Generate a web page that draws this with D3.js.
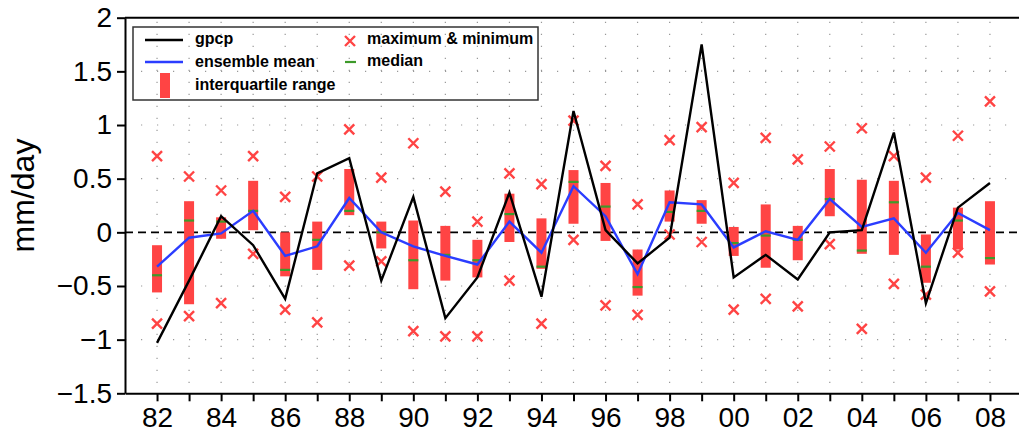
<!DOCTYPE html>
<html>
<head>
<meta charset="utf-8">
<script src="https://cdn.jsdelivr.net/npm/d3@7"></script>
<style>
  body { margin: 0; background: #fff; }
  svg { display: block; font-family: "Liberation Sans", Arial, sans-serif; }
  .axis text { font-size: 28px; fill: #000; }
  .axis path, .axis line { stroke: #000; stroke-width: 2; }
  .legend text { font-size: 16px; font-weight: bold; }
</style>
</head>
<body>
<div id="chart"></div>
<script>
// years shown on the x axis (labels are the last two digits)
var years = [1982, 1983, 1984, 1985, 1986, 1987, 1988, 1989, 1990, 1991, 1992, 1993, 1994, 1995,
    1996, 1997, 1998, 1999, 2000, 2001, 2002, 2003, 2004, 2005, 2006, 2007, 2008];

var gpcp = [-1.03, -0.45, 0.15, -0.12, -0.62, 0.55, 0.69, -0.45, 0.33, -0.80, -0.42, 0.37, -0.60, 1.13,
    0.02, -0.29, -0.05, 1.75, -0.42, -0.21, -0.44, 0.00, 0.02, 0.93, -0.66, 0.23, 0.46];

var ensMean = [-0.32, -0.05, -0.01, 0.20, -0.22, -0.13, 0.32, 0.00, -0.13, -0.22, -0.30, 0.10, -0.19, 0.43,
    0.15, -0.39, 0.28, 0.26, -0.14, 0.01, -0.07, 0.31, 0.05, 0.13, -0.19, 0.18, 0.02];

var upperQ = [-0.12, 0.29, 0.14, 0.48, 0.00, 0.10, 0.59, 0.10, 0.11, 0.06, -0.07, 0.36, 0.13, 0.58,
    0.46, -0.16, 0.39, 0.30, 0.05, 0.26, 0.06, 0.59, 0.49, 0.48, -0.02, 0.23, 0.29];

var lowerQ = [-0.56, -0.67, -0.06, 0.02, -0.41, -0.35, 0.16, -0.15, -0.53, -0.45, -0.42, -0.09, -0.34, 0.08,
    -0.08, -0.59, 0.10, 0.08, -0.22, -0.33, -0.26, 0.15, -0.20, -0.21, -0.47, -0.16, -0.30];

var median = [-0.40, 0.11, 0.10, 0.20, -0.35, -0.07, 0.20, 0.00, -0.26, -0.21, -0.26, 0.17, -0.32, 0.47,
    0.24, -0.51, 0.19, 0.20, -0.10, -0.03, -0.07, 0.31, -0.17, 0.28, -0.32, 0.11, -0.24];

var maxVal = [0.71, 0.52, 0.39, 0.71, 0.33, 0.52, 0.96, 0.51, 0.83, 0.38, 0.10, 0.55, 0.45, 1.04,
    0.62, 0.26, 0.86, 0.98, 0.46, 0.88, 0.68, 0.80, 0.97, 0.71, 0.51, 0.90, 1.22];

var minVal = [-0.85, -0.78, -0.66, -0.20, -0.72, -0.84, -0.31, -0.27, -0.92, -0.97, -0.97, -0.45, -0.85, -0.07,
    -0.68, -0.77, -0.02, -0.09, -0.72, -0.62, -0.69, -0.11, -0.90, -0.48, -0.58, -0.19, -0.55];

var yTicks = [-1.5, -1, -0.5, 0, 0.5, 1, 1.5, 2];
var yGrid = [-1, -0.5, 0.5, 1, 1.5];

var sWidth = 1019;
var sHeight = 434;

var marg = { top: 17.7, bottom: 40.7, left: 125, right: -3 };
var width = sWidth - marg.left - marg.right;
var height = sHeight - marg.top - marg.bottom;

var red = '#ff4444';
var green = '#3d9a2a';
var blue = '#2b3dff';

var svg = d3.select('#chart')
    .append('svg')
    .attr('width', sWidth)
    .attr('height', sHeight);

var chartsGroup = svg.append('g')
    .attr('transform', `translate(${marg.left}, ${marg.top})`);

var xScale = d3.scaleLinear().domain([1981, 2009]).range([0, width]);
var yScale = d3.scaleLinear().domain([-1.5, 2]).range([height, 0]);

var rows = years.map(function(yr, i) {
    return { year: yr, gpcp: gpcp[i], mean: ensMean[i], hi: upperQ[i], lo: lowerQ[i],
        med: median[i], max: maxVal[i], min: minVal[i] };
});

// dotted grid
chartsGroup.append('g').selectAll('line')
    .data(years)
    .enter()
    .append('line')
    .attr('x1', d => xScale(d)).attr('x2', d => xScale(d))
    .attr('y1', 4).attr('y2', height)
    .attr('stroke', '#999')
    .attr('stroke-width', 1.2)
    .attr('stroke-dasharray', '1.2,10.8');

chartsGroup.append('g').selectAll('line')
    .data(yGrid)
    .enter()
    .append('line')
    .attr('x1', 0).attr('x2', width)
    .attr('y1', d => yScale(d)).attr('y2', d => yScale(d))
    .attr('stroke', '#999')
    .attr('stroke-width', 1.2)
    .attr('stroke-dasharray', '1.2,14.8');

// zero line
chartsGroup.append('line')
    .attr('x1', 0).attr('x2', width)
    .attr('y1', yScale(0)).attr('y2', yScale(0))
    .attr('stroke', '#000')
    .attr('stroke-width', 1.6)
    .attr('stroke-dasharray', '8,5');

// interquartile bars
var barW = 10;
chartsGroup.append('g').selectAll('rect')
    .data(rows)
    .enter()
    .append('rect')
    .attr('x', d => xScale(d.year) - barW / 2)
    .attr('y', d => yScale(d.hi))
    .attr('width', barW)
    .attr('height', d => yScale(d.lo) - yScale(d.hi))
    .attr('fill', red);

// medians
chartsGroup.append('g').selectAll('line')
    .data(rows)
    .enter()
    .append('line')
    .attr('x1', d => xScale(d.year) - barW / 2)
    .attr('x2', d => xScale(d.year) + barW / 2)
    .attr('y1', d => yScale(d.med)).attr('y2', d => yScale(d.med))
    .attr('stroke', green)
    .attr('stroke-width', 2.2);

// max & min crosses
function cross(sel, cx, cy) {
    var s = 5;
    sel.append('path')
        .attr('d', `M${cx - s},${cy - s}L${cx + s},${cy + s}M${cx - s},${cy + s}L${cx + s},${cy - s}`)
        .attr('stroke', red)
        .attr('stroke-width', 2.4)
        .attr('fill', 'none');
}

var crossGroup = chartsGroup.append('g');
rows.forEach(function(d) {
    cross(crossGroup, xScale(d.year), yScale(d.max));
    cross(crossGroup, xScale(d.year), yScale(d.min));
});

// lines
var meanLine = d3.line().x(d => xScale(d.year)).y(d => yScale(d.mean));
var gpcpLine = d3.line().x(d => xScale(d.year)).y(d => yScale(d.gpcp));

chartsGroup.append('path')
    .datum(rows)
    .attr('d', meanLine)
    .attr('fill', 'none')
    .attr('stroke', blue)
    .attr('stroke-width', 2.4);

chartsGroup.append('path')
    .datum(rows)
    .attr('d', gpcpLine)
    .attr('fill', 'none')
    .attr('stroke', '#000')
    .attr('stroke-width', 2.4);

// axes
var bottomAxis = d3.axisBottom(xScale)
    .tickValues(years)
    .tickSize(8)
    .tickSizeOuter(0)
    .tickPadding(6)
    .tickFormat(d => d % 2 === 0 ? String(d).slice(2) : '');

chartsGroup.append('g')
    .classed('axis', true)
    .attr('transform', `translate(0, ${height})`)
    .call(bottomAxis);

var leftAxis = d3.axisLeft(yScale)
    .tickValues(yTicks)
    .tickSize(8)
    .tickSizeOuter(0)
    .tickPadding(5)
    .tickFormat(d3.format(''));

chartsGroup.append('g')
    .classed('axis', true)
    .call(leftAxis);

chartsGroup.selectAll('.axis').attr('font-family', null).attr('font-size', null);

// top border
chartsGroup.append('line')
    .attr('x1', 0).attr('x2', width)
    .attr('y1', 0).attr('y2', 0)
    .attr('stroke', '#000')
    .attr('stroke-width', 2);

// y label
svg.append('text')
    .attr('transform', `translate(34, ${marg.top + height / 2 - 10}) rotate(-90)`)
    .attr('text-anchor', 'middle')
    .style('font-size', '32px')
    .text('mm/day');

// legend
var legend = chartsGroup.append('g')
    .classed('legend', true)
    .attr('transform', `translate(${133 - marg.left}, ${27 - marg.top})`);

legend.append('rect')
    .attr('x', 0).attr('y', 0)
    .attr('width', 405).attr('height', 73)
    .attr('fill', 'none')
    .attr('stroke', '#333')
    .attr('stroke-width', 1.5);

legend.append('line')
    .attr('x1', 12).attr('x2', 50).attr('y1', 13).attr('y2', 13)
    .attr('stroke', '#000').attr('stroke-width', 2.4);
legend.append('line')
    .attr('x1', 12).attr('x2', 50).attr('y1', 35).attr('y2', 35)
    .attr('stroke', blue).attr('stroke-width', 2.4);
legend.append('rect')
    .attr('x', 27).attr('y', 46).attr('width', 10).attr('height', 25)
    .attr('fill', red);

legend.append('text').attr('x', 62).attr('y', 17).text('gpcp');
legend.append('text').attr('x', 62).attr('y', 40).text('ensemble mean');
legend.append('text').attr('x', 62).attr('y', 63).text('interquartile range');

cross(legend, 217, 14);
legend.append('line')
    .attr('x1', 212).attr('x2', 223).attr('y1', 35).attr('y2', 35)
    .attr('stroke', green).attr('stroke-width', 2.2);
legend.append('text').attr('x', 234).attr('y', 17).text('maximum & minimum');
legend.append('text').attr('x', 234).attr('y', 39).text('median');
</script>
</body>
</html>
